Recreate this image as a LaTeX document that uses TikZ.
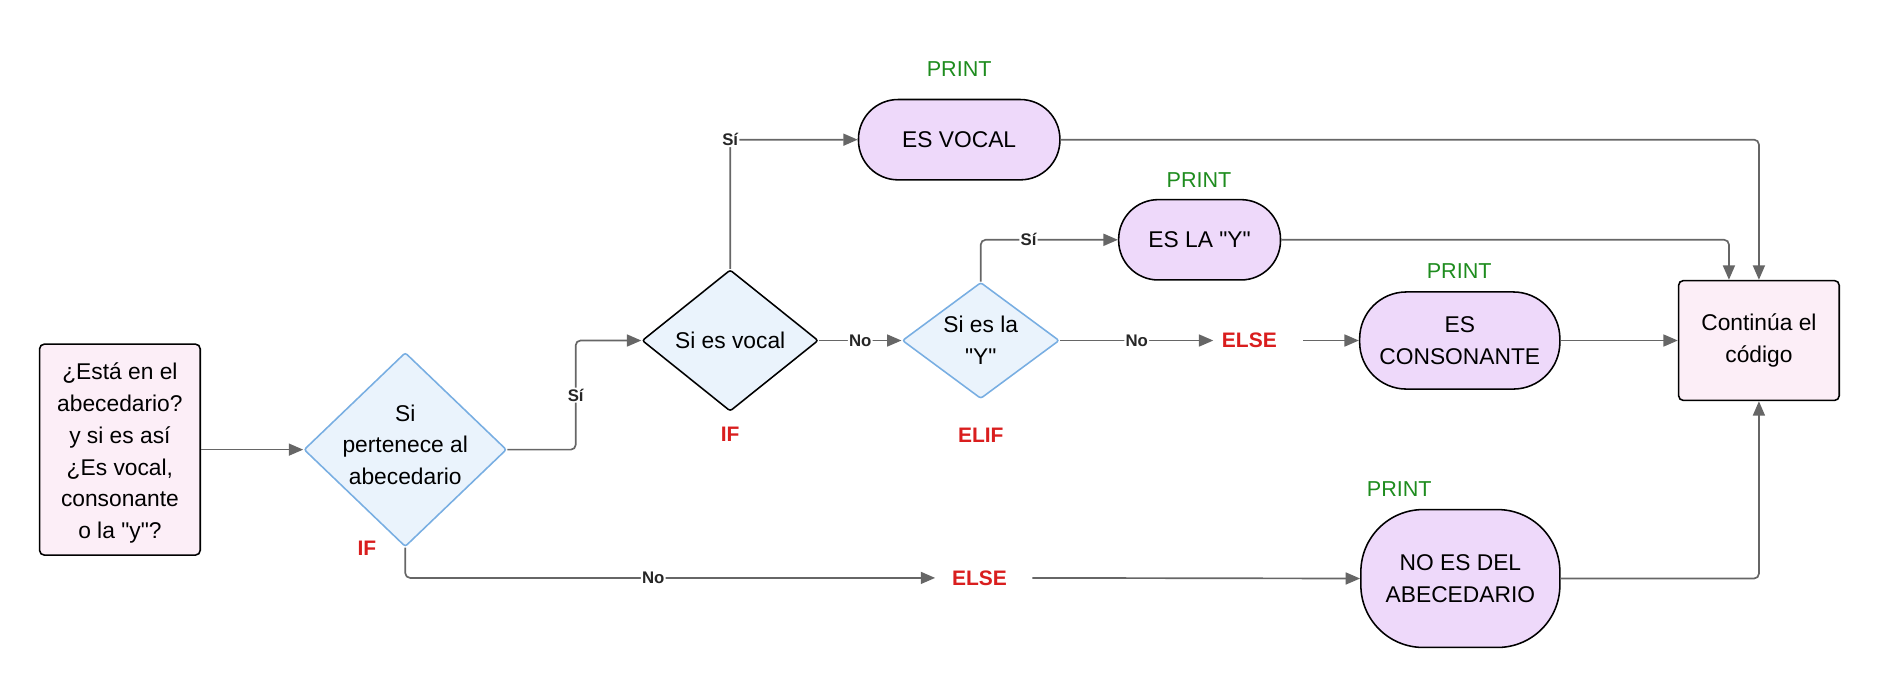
\documentclass[tikz,border=0pt]{standalone}
\usepackage{fontspec}
\setmainfont{Liberation Sans}[Ligatures=TeXOff]
\usetikzlibrary{shapes.geometric,arrows.meta}
\definecolor{pinkfill}{HTML}{FCEEF7}
\definecolor{lavfill}{HTML}{EED9FA}
\definecolor{bluefill}{HTML}{EAF3FC}
\definecolor{blueline}{HTML}{78AEE2}
\definecolor{linegray}{HTML}{666666}
\definecolor{printgreen}{HTML}{1E8C1E}
\definecolor{kwred}{HTML}{D91E1E}
\begin{document}
\begin{tikzpicture}[x=1pt,y=-1pt,
 every node/.style={font=\fontsize{19}{26.5}\selectfont, text=black},
 box/.style={draw=black, line width=1.3pt, fill=pinkfill, rounded corners=4pt, align=center, inner sep=0pt},
 term/.style={draw=black, line width=1.3pt, fill=lavfill, align=center, inner sep=0pt},
 dec/.style={diamond, draw=blueline, line width=1.3pt, fill=bluefill, inner sep=0pt, rounded corners=2pt},
 conn/.style={draw=linegray, line width=1.4pt, rounded corners=4pt, -{Triangle[length=12pt,width=10pt]}},
 lbl/.style={font=\bfseries\fontsize{14}{16}\selectfont, fill=white, inner sep=1pt, text=black!85},
 printlbl/.style={text=printgreen, font=\fontsize{18}{20}\selectfont},
 kw/.style={font=\bfseries\fontsize{17.5}{20}\selectfont, text=kwred},
]
\path[use as bounding box] (0,0) rectangle (1568,573);

% nodes
\node[box, minimum width=134, minimum height=176] (start) at (100,375) {};
\node[align=center] (starttext) at (100,378)
  {¿Está en el\\abecedario?\\y si es así\\¿Es vocal,\\consonante\\o la "y"?};
\node[dec, minimum width=169, minimum height=162,
  label={[align=center, yshift=4pt]center:{Si\\pertenece al\\abecedario}}] (d1) at (338,375) {};
\node[dec, draw=black, minimum width=147, minimum height=118,
  label={center:Si es vocal}] (d2) at (609,284) {};
\node[dec, minimum width=131, minimum height=97,
  label={[align=center]center:{Si es la\\"Y"}}] (d3) at (818,284) {};
\node[term, rounded corners=33pt, minimum width=168, minimum height=67] (esv) at (800,116.5) {ES VOCAL};
\node[term, rounded corners=33pt, minimum width=135, minimum height=67] (esy) at (1000.5,200) {ES LA "Y"};
\node[term, rounded corners=39pt, minimum width=167, minimum height=81] (escons) at (1217.5,284) {ES\\CONSONANTE};
\node[box, minimum width=134, minimum height=100] (cont) at (1467,284) {Continúa el\\código};
\node[term, rounded corners=52pt, minimum width=166, minimum height=115] (noes) at (1218,482.5) {NO ES DEL\\ABECEDARIO};

% keyword and print labels
\node[printlbl] (p1) at (800,58) {PRINT};
\node[printlbl] (p2) at (1000,150) {PRINT};
\node[printlbl] (p3) at (1217,226) {PRINT};
\node[printlbl] (p4) at (1167,408) {PRINT};
\node[kw] (if1) at (306,457) {IF};
\node[kw] (if2) at (609,362) {IF};
\node[kw] (elif) at (818,363) {ELIF};
\node[kw, inner xsep=7pt] (else1) at (1042,284) {ELSE};
\node[kw, inner xsep=14pt] (else2) at (817,482) {ELSE};

% connectors
\draw[conn] (start.east) -- (d1.west);
\draw[conn] (d1.east) -- ++(57,0) |- node[lbl,pos=0.25]{Sí} (d2.west);
\draw[conn] (d2.north) |- node[lbl,pos=0.5]{Sí} (esv.west);
\draw[conn] (d2.east) -- node[lbl]{No} (d3.west);
\draw[conn] (d3.north) |- node[lbl,pos=0.674]{Sí} (esy.west);
\draw[conn] (d3.east) -- node[lbl]{No} (else1.west);
\draw[conn] ([xshift=15pt]else1.east) -- (escons.west);
\draw[conn] (escons.east) -- (cont.west);
\draw[conn] (esv.east) -| (cont.north);
\draw[conn] (esy.east) -| ([xshift=-25pt]cont.north);
\draw[conn] (d1.south) |- node[lbl,pos=0.734]{No} (else2.west);
\draw[conn] ([xshift=7pt]else2.east) -- (noes.west);
\draw[conn] (noes.east) -| (cont.south);
\end{tikzpicture}
\end{document}
